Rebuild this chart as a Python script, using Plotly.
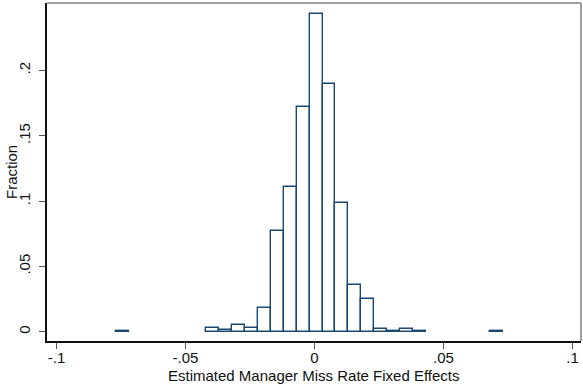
import plotly.graph_objects as go

# Histogram data (Stata-style: bins of width 0.005 starting at -0.0769)
bin_start = -0.0769
bin_width = 0.005
bin_index = [0, 7, 8, 9, 10, 11, 12, 13, 14, 15, 16, 17, 18, 19, 20, 21, 22, 23, 29]
fraction = [0.0009, 0.0028, 0.0013, 0.0054, 0.0026, 0.0183, 0.0773, 0.1107, 0.172,
            0.2436, 0.190, 0.0985, 0.0356, 0.0253, 0.0018, 0.0006, 0.0023, 0.0006, 0.0009]

x_tickvals = [-0.1, -0.05, 0, 0.05, 0.1]
x_ticktext = ["-.1", "-.05", "0", ".05", ".1"]
y_tickvals = [0, 0.05, 0.1, 0.15, 0.2]
y_ticktext = ["0", ".05", ".1", ".15", ".2"]

x_title = "Estimated Manager Miss Rate Fixed Effects"
y_title = "Fraction"

centers = [bin_start + bin_width * (k + 0.5) for k in bin_index]

navy = "#1a476f"
font_family = "Liberation Sans, Arial, Helvetica, sans-serif"

fig = go.Figure()
fig.add_trace(go.Bar(
    x=centers, y=fraction, width=[bin_width] * len(centers),
    marker=dict(color="white", line=dict(color=navy, width=1.4)),
    showlegend=False, hoverinfo="skip",
))

fig.update_layout(
    width=583, height=386,
    margin=dict(l=47, r=2, t=3, b=45),
    paper_bgcolor="white", plot_bgcolor="white",
    bargap=0,
    font=dict(family=font_family, size=15, color="#111"),
    xaxis=dict(
        range=[-0.1037, 0.1033], tickvals=x_tickvals, ticktext=x_ticktext,
        showline=True, linecolor="#111", linewidth=1.5, showgrid=False, zeroline=False,
        ticks="outside", ticklen=6, tickwidth=1, tickcolor="#555",
        tickfont=dict(size=15), ticklabelstandoff=-4,
    ),
    yaxis=dict(
        range=[-0.0071, 0.2517], tickvals=y_tickvals, ticktext=y_ticktext,
        showline=True, linecolor="#111", linewidth=1.5, showgrid=False, zeroline=False,
        ticks="outside", ticklen=6, tickwidth=1, tickcolor="#555",
        tickangle=-90, tickfont=dict(size=15), ticklabelstandoff=3,
    ),
    shapes=[
        dict(type="line", xref="paper", yref="paper", x0=0, x1=1, y0=1, y1=1,
             line=dict(color="#808080", width=1.5)),
        dict(type="line", xref="paper", yref="paper", x0=1, x1=1, y0=0, y1=1,
             line=dict(color="#808080", width=1.5)),
    ],
    annotations=[
        dict(text=x_title, xref="paper", yref="paper", x=0.5, y=0, yshift=-34,
             xanchor="center", yanchor="middle", showarrow=False, font=dict(size=15)),
        dict(text=y_title, xref="paper", yref="paper", x=0, y=0.5, xshift=-36,
             xanchor="center", yanchor="middle", textangle=-90, showarrow=False,
             font=dict(size=15)),
    ],
)

fig.write_html("out.html")
